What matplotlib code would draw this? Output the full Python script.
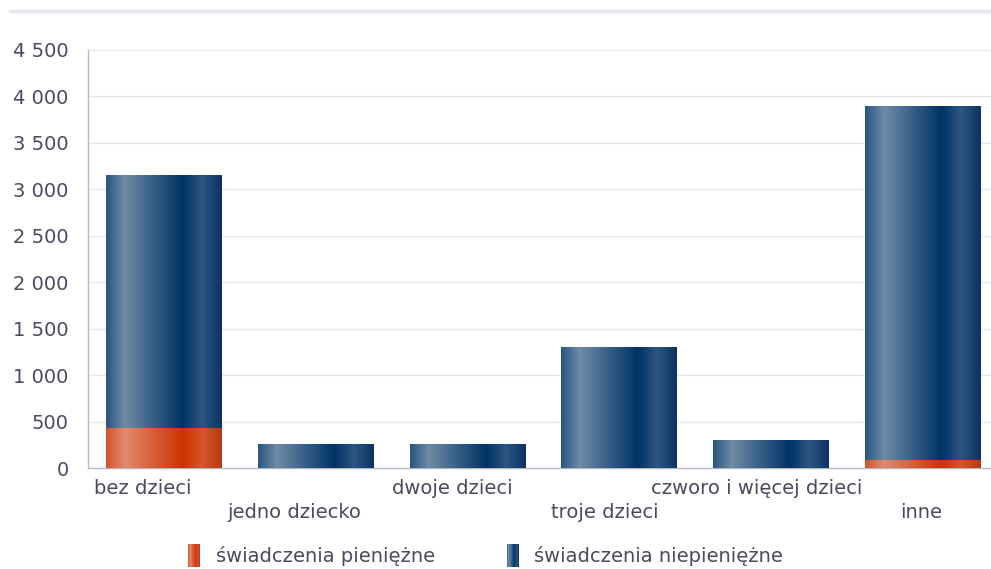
import numpy as np
import matplotlib.pyplot as plt
from matplotlib.patches import Rectangle
from matplotlib.legend_handler import HandlerBase
from matplotlib.colors import LinearSegmentedColormap

categories = ["bez dzieci", "jedno dziecko", "dwoje dzieci", "troje dzieci",
              "czworo i więcej dzieci", "inne"]
pieniezne = [430, 0, 0, 0, 0, 86]
niepieniezne = [2713, 258, 258, 1292, 301, 3811]
series_names = ["świadczenia pieniężne", "świadczenia niepieniężne"]
yticks = [0, 500, 1000, 1500, 2000, 2500, 3000, 3500, 4000, 4500]

# gradient stops (position, colour), lighter band on the left
blue_stops = [(0.0, "#2a5580"), (0.16, "#6f8ba6"), (0.66, "#003366"),
              (0.83, "#2d5680"), (1.0, "#0a3360")]
orange_stops = [(0.0, "#d4532a"), (0.16, "#e08a6e"), (0.66, "#cc3300"),
                (0.83, "#d6552c"), (1.0, "#b83a10")]
cmap_blue = LinearSegmentedColormap.from_list("b", blue_stops)
cmap_orange = LinearSegmentedColormap.from_list("o", orange_stops)
grad = np.linspace(0, 1, 256).reshape(1, -1)

text_col = "#4a4a5e"
plt.rcParams['font.family'] = ['DejaVu Sans']

fig = plt.figure(figsize=(9.91, 5.69), dpi=100)
# axes run a bit past the right edge, like the original
ax = fig.add_axes([88 / 991, 1 - 468 / 569, 910 / 991, 418 / 569])

width = 0.76
x = np.arange(len(categories))
bars_o = ax.bar(x, pieniezne, width, color="none")
bars_b = ax.bar(x, niepieniezne, width, bottom=pieniezne, color="none")

for bars, cmap in ((bars_o, cmap_orange), (bars_b, cmap_blue)):
    for b in bars:
        h = b.get_height()
        if h <= 0:
            continue
        x0, y0 = b.get_x(), b.get_y()
        ax.imshow(grad, cmap=cmap, aspect="auto", interpolation="bicubic",
                  extent=[x0, x0 + b.get_width(), y0, y0 + h], zorder=3)

ax.set_xlim(-0.5, len(categories) - 0.5)
ax.set_ylim(0, 4500)
ax.set_yticks(yticks)
ax.set_yticklabels(["{:,}".format(v).replace(",", " ") for v in yticks])
ax.tick_params(axis="y", length=0, pad=14, labelsize=14, labelcolor=text_col)
ax.set_xticks([])
ax.grid(axis="y", color="#e6e6ee", linewidth=1, zorder=0)
ax.set_axisbelow(True)
for s in ["top", "right"]:
    ax.spines[s].set_visible(False)
for s in ["left", "bottom"]:
    ax.spines[s].set_color("#b8b8c8")
    ax.spines[s].set_linewidth(1)

# staggered category labels
offs = [-0.14, -0.14, -0.1, -0.09, -0.09, -0.01]
for i, c in enumerate(categories):
    dy = -21 if i % 2 == 0 else -44
    ax.annotate(c, xy=(i + offs[i], 0), xycoords=("data", "axes fraction"),
                xytext=(0, dy), textcoords="offset pixels",
                ha="center", va="center", fontsize=14, color=text_col)

# thin band at the very top
fig.add_artist(plt.Line2D([10 / 991, 990 / 991], [1 - 11 / 569, 1 - 11 / 569],
                          color="#e8e8f0", linewidth=2.5))


class GradHandler(HandlerBase):
    def __init__(self, cmap):
        super().__init__()
        self.cmap = cmap

    def create_artists(self, legend, orig_handle, xdescent, ydescent,
                       width, height, fontsize, trans):
        n = 20
        arts = []
        for k in range(n):
            r = Rectangle((-xdescent + width * k / n, -ydescent - 3),
                          width / n + 0.05, height + 6,
                          facecolor=self.cmap((k + 0.5) / n), edgecolor="none",
                          transform=trans)
            arts.append(r)
        return arts


h1 = Rectangle((0, 0), 1, 1)
h2 = Rectangle((0, 0), 1, 1)
fig.legend([h1, h2], series_names, loc="center",
           bbox_to_anchor=(0.49, 1 - 556 / 569), ncol=2, frameon=False,
           fontsize=14, labelcolor=text_col, handlelength=0.62,
           handleheight=0.8, handletextpad=0.8, columnspacing=3.7,
           handler_map={h1: GradHandler(cmap_orange), h2: GradHandler(cmap_blue)})

fig.savefig("out.png", dpi=100)
